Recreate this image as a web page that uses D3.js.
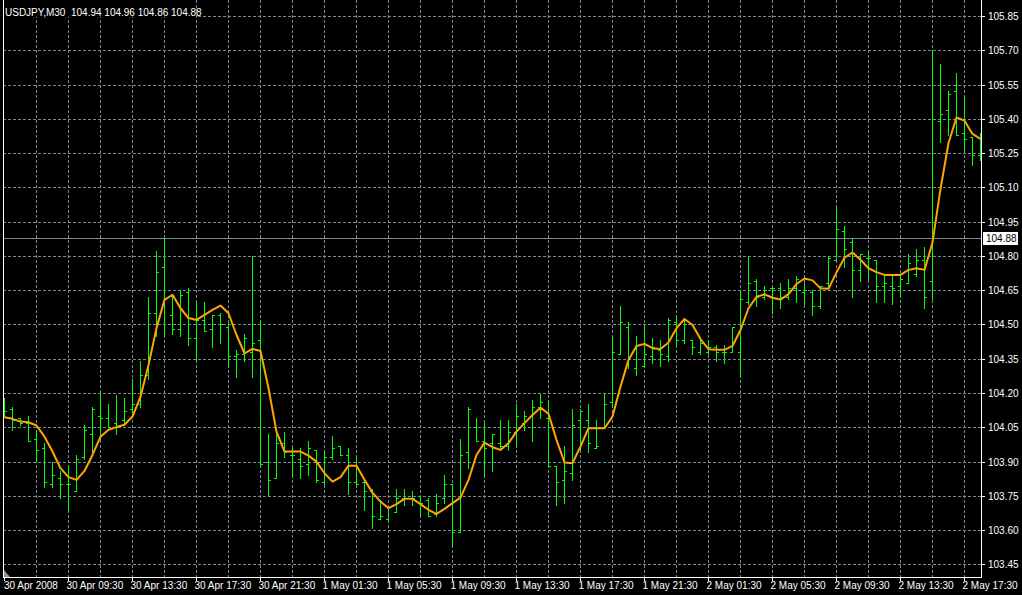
<!DOCTYPE html>
<html>
<head>
<meta charset="utf-8">
<script src="https://cdn.jsdelivr.net/npm/d3@7"></script>
<style>
  html, body { margin: 0; padding: 0; background: #000; }
  svg { display: block; }
  text { font-family: "Liberation Sans", Arial, sans-serif; font-size: 10px; }
</style>
</head>
<body>
<svg id="chart" width="1022" height="595"></svg>
<script>
// ---------- DATA (USDJPY, M30) ----------
const symbolTitle = "USDJPY,M30";
const headerValues = ["104.94", "104.96", "104.86", "104.88"];
const bidPrice = 104.88;

const openPrices = [
104.15,104.13,104.09,104.07,104.00,103.96,103.80,103.83,103.80,103.77,
103.92,104.02,104.10,104.09,104.07,104.08,104.13,104.15,104.28,104.55,
104.75,104.54,104.48,104.64,104.44,104.52,104.48,104.54,104.49,104.36,
104.37,104.38,104.43,103.90,103.83,103.98,103.93,103.91,103.89,103.95,
103.81,103.92,103.97,103.93,103.81,103.81,103.77,103.65,103.65,103.68,
103.74,103.74,103.75,103.73,103.67,103.74,103.80,103.59,103.94,104.05,
103.99,103.98,103.98,103.97,104.03,104.07,104.10,104.14,104.09,103.88,
103.82,103.85,104.08,104.08,103.96,104.05,104.16,104.37,104.49,104.31,
104.32,104.36,104.39,104.36,104.51,104.43,104.43,104.38,104.38,104.40,
104.38,104.38,104.38,104.60,104.69,104.62,104.66,104.66,104.62,104.66,
104.64,104.64,104.58,104.68,104.78,104.91,104.86,104.74,104.79,104.78,
104.67,104.67,104.67,104.68,104.72,104.78,104.69,105.39,105.44,105.52,
105.34,105.32,105.24];

const highPrices = [
104.18,104.14,104.09,104.10,104.04,103.98,103.90,103.86,103.88,103.93,
104.06,104.14,104.20,104.15,104.19,104.18,104.26,104.34,104.62,104.82,
104.88,104.63,104.65,104.66,104.60,104.60,104.54,104.55,104.51,104.39,
104.46,104.80,104.52,104.02,104.02,104.03,103.96,103.96,103.99,103.95,
103.94,104.01,103.97,103.96,103.92,103.83,103.78,103.73,103.70,103.78,
103.78,103.77,103.75,103.74,103.76,103.84,103.80,104.00,104.14,104.09,
104.07,104.02,104.08,104.08,104.15,104.12,104.17,104.20,104.17,103.88,
103.97,104.13,104.13,104.15,104.08,104.20,104.45,104.58,104.51,104.45,
104.50,104.44,104.43,104.53,104.54,104.52,104.43,104.43,104.43,104.41,
104.41,104.49,104.65,104.80,104.70,104.67,104.67,104.68,104.70,104.71,
104.68,104.65,104.67,104.80,105.02,104.93,104.88,104.81,104.82,104.78,
104.71,104.72,104.71,104.81,104.83,104.84,105.70,105.64,105.52,105.60,
105.49,105.32,105.34];

const lowPrices = [
104.10,104.04,104.06,103.99,103.90,103.79,103.79,103.74,103.69,103.77,
103.91,103.94,104.00,104.05,104.02,104.06,104.11,104.14,104.26,104.45,
104.45,104.46,104.45,104.41,104.34,104.47,104.40,104.42,104.32,104.27,
104.34,104.27,103.88,103.75,103.83,103.92,103.84,103.83,103.84,103.81,
103.80,103.91,103.93,103.76,103.80,103.69,103.61,103.65,103.64,103.68,
103.71,103.71,103.66,103.66,103.66,103.72,103.53,103.59,103.87,103.99,
103.84,103.86,103.95,103.95,103.97,104.04,103.99,104.09,103.88,103.71,
103.72,103.82,103.95,103.94,103.96,104.05,104.14,104.37,104.31,104.28,
104.32,104.33,104.32,104.34,104.41,104.42,104.37,104.37,104.37,104.34,
104.33,104.38,104.27,104.59,104.58,104.61,104.55,104.57,104.61,104.60,
104.59,104.54,104.57,104.66,104.78,104.75,104.62,104.69,104.70,104.60,
104.60,104.59,104.62,104.68,104.71,104.57,104.61,105.30,105.33,105.33,
105.26,105.20,105.22];

const closePrices = [
104.12,104.08,104.07,103.99,103.95,103.81,103.84,103.80,103.80,103.91,
104.04,104.13,104.09,104.05,104.05,104.12,104.15,104.28,104.55,104.73,
104.61,104.48,104.63,104.44,104.52,104.47,104.54,104.50,104.36,104.37,
104.44,104.42,103.89,103.82,103.98,103.94,103.93,103.88,103.96,103.82,
103.92,103.96,103.93,103.81,103.80,103.77,103.66,103.66,103.70,103.74,
103.74,103.74,103.72,103.66,103.72,103.80,103.59,103.93,104.13,103.99,
103.96,104.02,103.97,104.03,104.10,104.10,104.14,104.16,103.88,103.81,
103.86,104.06,104.12,103.98,103.97,104.15,104.38,104.51,104.35,104.41,
104.37,104.40,104.37,104.52,104.43,104.50,104.40,104.42,104.40,104.38,
104.38,104.49,104.61,104.68,104.62,104.65,104.66,104.62,104.66,104.70,
104.65,104.58,104.67,104.79,104.92,104.83,104.74,104.81,104.79,104.67,
104.68,104.66,104.70,104.77,104.78,104.62,105.40,105.42,105.51,105.33,
105.31,105.24,105.27];

const maValues = [
104.094,104.087,104.075,104.072,104.058,104.009,103.944,103.871,103.832,103.820,
103.859,103.929,104.009,104.039,104.051,104.061,104.097,104.184,104.323,104.484,
104.608,104.630,104.571,104.528,104.520,104.542,104.564,104.583,104.549,104.454,
104.374,104.393,104.384,104.221,104.031,103.944,103.944,103.944,103.926,103.900,
103.849,103.812,103.832,103.882,103.882,103.820,103.764,103.725,103.696,103.714,
103.737,103.737,103.714,103.689,103.671,103.693,103.718,103.742,103.820,103.929,
103.983,103.963,103.951,103.981,104.031,104.068,104.104,104.136,104.109,103.995,
103.896,103.893,103.966,104.046,104.046,104.046,104.097,104.228,104.345,104.406,
104.415,104.396,104.393,104.421,104.484,104.524,104.498,104.436,104.392,104.389,
104.389,104.406,104.476,104.571,104.621,104.632,104.617,104.609,104.633,104.677,
104.701,104.693,104.658,104.656,104.728,104.792,104.815,104.783,104.746,104.729,
104.717,104.717,104.717,104.739,104.746,104.739,104.859,105.093,105.294,105.406,
105.392,105.334,105.312];

const priceTicks = [103.45,103.60,103.75,103.90,104.05,104.20,104.35,104.50,104.65,
                    104.80,104.95,105.10,105.25,105.40,105.55,105.70,105.85];
const timeTickBars = [0,8,16,24,32,40,48,56,64,72,80,88,96,104,112,120];
const timeTickLabels = ["30 Apr 2008","30 Apr 09:30","30 Apr 13:30","30 Apr 17:30","30 Apr 21:30",
  "1 May 01:30","1 May 05:30","1 May 09:30","1 May 13:30","1 May 17:30","1 May 21:30",
  "2 May 01:30","2 May 05:30","2 May 09:30","2 May 13:30","2 May 17:30"];

// ---------- LAYOUT ----------
const W = 1022, H = 595;
const plotLeft = 3, plotRight = 981, plotTop = 0, plotBottom = 577;
const C = { bg: "#000000", grid: "#778899", frame: "#ffffff", bar: "#00ff00", ma: "#ffa500", text: "#ffffff" };

const bars = openPrices.map((o, i) => ({ i, o, h: highPrices[i], l: lowPrices[i], c: closePrices[i] }));
const n = bars.length;

const x = d3.scalePoint().domain(d3.range(n)).range([4, 4 + 8 * (n - 1)]);
const y = d3.scaleLinear().domain([103.45, 105.85]).range([564.4, 16]);
const px = v => Math.round(v);

const svg = d3.select("#chart");
svg.append("rect").attr("width", W).attr("height", H).attr("fill", C.bg);

svg.append("defs").append("clipPath").attr("id", "plotClip")
  .append("rect").attr("x", plotLeft + 1).attr("y", plotTop).attr("width", plotRight - plotLeft - 1).attr("height", plotBottom - plotTop);

const plot = svg.append("g").attr("clip-path", "url(#plotClip)");

// grid
const gridBars = d3.range(4, n, 4);
plot.append("g").selectAll("line").data(gridBars).join("line")
  .attr("x1", d => px(x(d)) + 0.5).attr("x2", d => px(x(d)) + 0.5)
  .attr("y1", plotTop).attr("y2", plotBottom)
  .attr("stroke", C.grid).attr("stroke-dasharray", "3,2").attr("shape-rendering", "crispEdges");
plot.append("g").selectAll("line").data(priceTicks).join("line")
  .attr("x1", plotLeft).attr("x2", plotRight)
  .attr("y1", d => px(y(d)) + 0.5).attr("y2", d => px(y(d)) + 0.5)
  .attr("stroke", C.grid).attr("stroke-dasharray", "3,2").attr("shape-rendering", "crispEdges");

// header background box
plot.append("rect").attr("x", plotLeft).attr("y", 0).attr("width", 193).attr("height", 17).attr("fill", C.bg);

// bid line
plot.append("line")
  .attr("x1", plotLeft).attr("x2", plotRight)
  .attr("y1", px(y(bidPrice)) + 0.5).attr("y2", px(y(bidPrice)) + 0.5)
  .attr("stroke", C.grid).attr("shape-rendering", "crispEdges");

// OHLC bars
plot.append("g").selectAll("path").data(bars).join("path")
  .attr("d", d => {
    const bx = px(x(d.i));
    const yh = px(y(d.h)), yl = px(y(d.l)), yo = px(y(d.o)) + 0.5, yc = px(y(d.c)) + 0.5;
    return `M${bx + 0.5},${yh}V${yl + 1}M${bx - 2},${yo}H${bx}M${bx + 1},${yc}H${bx + 3}`;
  })
  .attr("fill", "none").attr("stroke", C.bar).attr("stroke-width", 1).attr("shape-rendering", "crispEdges");

// moving average
plot.append("path").datum(maValues)
  .attr("d", d3.line().x((v, i) => x(i) + 0.5).y(v => y(v)))
  .attr("fill", "none").attr("stroke", C.ma).attr("stroke-width", 2).attr("stroke-linejoin", "round");

// scroll marker triangle
plot.append("path").attr("d", "M4,570L4,577L10,577Z").attr("fill", "#8a96a8");

// frame
svg.append("line").attr("x1", plotLeft + 0.5).attr("x2", plotLeft + 0.5).attr("y1", 0).attr("y2", plotBottom + 1)
  .attr("stroke", C.frame).attr("shape-rendering", "crispEdges");
svg.append("line").attr("x1", plotRight + 0.5).attr("x2", plotRight + 0.5).attr("y1", 0).attr("y2", plotBottom + 1)
  .attr("stroke", C.frame).attr("shape-rendering", "crispEdges");
svg.append("line").attr("x1", plotLeft).attr("x2", plotRight + 1).attr("y1", plotBottom + 0.5).attr("y2", plotBottom + 0.5)
  .attr("stroke", C.frame).attr("shape-rendering", "crispEdges");

// price axis
const yAxis = d3.axisRight(y).tickValues(priceTicks).tickSize(3).tickPadding(3).tickFormat(d3.format(".2f"));
const gy = svg.append("g").attr("transform", `translate(${plotRight + 1},0)`).call(yAxis);
gy.select(".domain").remove();
gy.selectAll(".tick").attr("transform", d => `translate(0,${px(y(d)) + 0.5})`);
gy.selectAll(".tick line").attr("stroke", C.frame).attr("shape-rendering", "crispEdges");
gy.selectAll(".tick text").attr("fill", C.text).attr("font-size", 10).attr("dy", "0.35em")
  .style("font-family", '"Liberation Sans", Arial, sans-serif');

// bid label
const by = px(y(bidPrice));
svg.append("rect").attr("x", 983).attr("y", by - 6).attr("width", 35).attr("height", 13).attr("fill", "#ffffff");
svg.append("text").attr("x", 986).attr("y", by + 4).attr("fill", "#000").text(bidPrice.toFixed(2));

// time axis
const xAxis = d3.axisBottom(x).tickValues(timeTickBars).tickSize(4)
  .tickFormat(d => timeTickLabels[timeTickBars.indexOf(d)]);
const gx = svg.append("g").attr("transform", `translate(0,${plotBottom})`).call(xAxis);
gx.select(".domain").remove();
gx.selectAll(".tick").attr("transform", d => `translate(${px(x(d)) + 0.5},0)`);
gx.selectAll(".tick line").attr("stroke", C.frame).attr("shape-rendering", "crispEdges");
gx.selectAll(".tick text").attr("fill", C.text).attr("text-anchor", "start")
  .attr("x", (d, i) => i === 0 ? -0.5 : -2).attr("y", 12).attr("dy", null).attr("font-size", 10)
  .style("font-family", '"Liberation Sans", Arial, sans-serif');

// header
svg.append("text").attr("x", 5).attr("y", 15.5).attr("fill", C.text).style("white-space", "pre")
  .text(symbolTitle + "  " + headerValues.join(" "));
</script>
</body>
</html>
